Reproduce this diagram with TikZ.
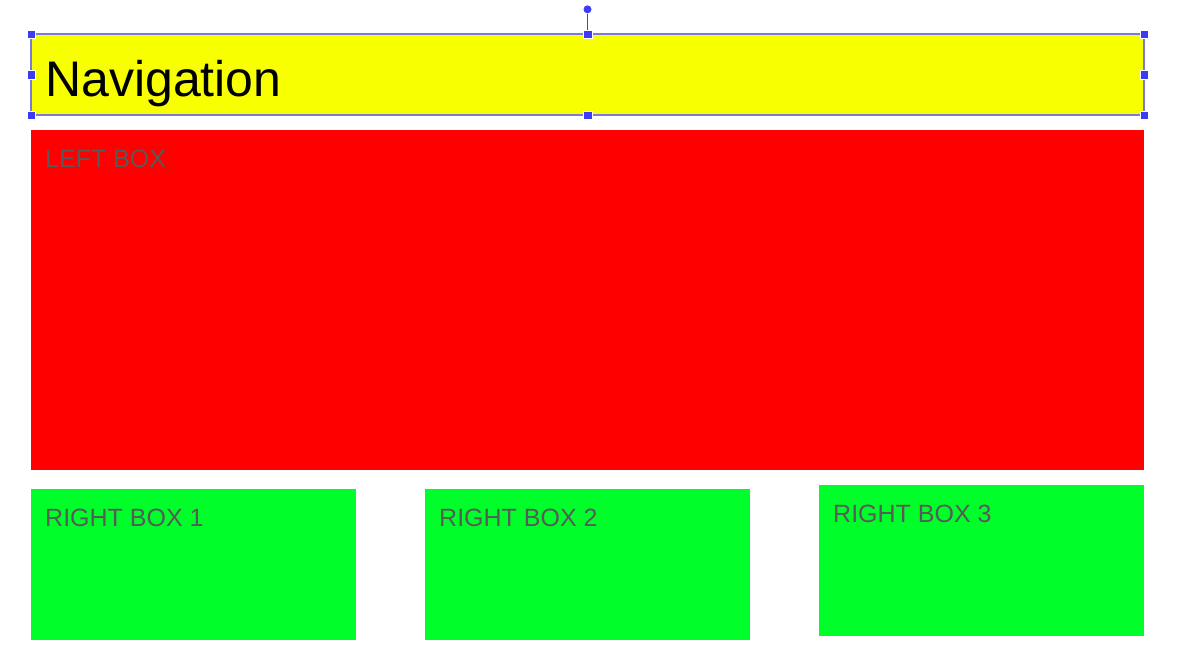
\documentclass[tikz,border=0pt]{standalone}
\usepackage{xcolor}
\usepackage{fontspec}
\setmainfont{Liberation Sans}
\usetikzlibrary{positioning}
\definecolor{navyellow}{HTML}{F7FF00}
\definecolor{boxred}{HTML}{FF0000}
\definecolor{boxgreen}{HTML}{00FF2A}
\definecolor{labelgray}{HTML}{595959}
\definecolor{handleblue}{HTML}{3C3CF5}
\definecolor{selectline}{HTML}{7A7AD8}

\begin{document}
\begin{tikzpicture}[x=1pt, y=-1pt,
    boxtext/.style={inner sep=0pt, anchor=north west, text=labelgray, font=\fontsize{25pt}{30pt}\selectfont},
    handle/.style={draw=white, line width=0.4pt, fill=handleblue, inner sep=0pt, minimum size=8.5pt},
    greenbox/.style={fill=boxgreen, inner sep=0pt, outer sep=0pt, minimum width=325pt, minimum height=151pt}]

        \useasboundingbox (0,0) rectangle (1187,662);

        % Nodes
        \node (nav) [fill=navyellow, draw=selectline, line width=1.2pt, inner sep=0pt, outer sep=0pt, anchor=north west, minimum width=1113pt, minimum height=81pt] at (31,34) {};
        \node (navtext) [inner sep=0pt, anchor=north west, font=\fontsize{50pt}{60pt}\selectfont] at ([shift={(14pt,-26pt)}]nav.north west) {Navigation};
        \node (left) [below=15pt of nav, fill=boxred, inner sep=0pt, outer sep=0pt, minimum width=1113pt, minimum height=340pt] {};
        \node (lefttext) [boxtext] at ([shift={(14pt,-19.5pt)}]left.north west) {LEFT BOX};
        \node (right1) [greenbox, below=19pt of left.south west, anchor=north west] {};
        \node (right2) [greenbox, right=69pt of right1] {};
        \node (right3) [greenbox, right=69pt of right2, yshift=4pt] {};
        \foreach \b/\t in {right1/RIGHT BOX 1, right2/RIGHT BOX 2, right3/RIGHT BOX 3} {
            \node (\b text) [boxtext] at ([shift={(14pt,-20pt)}]\b.north west) {\t};
        }

        % Handles
        \foreach \a in {north west, north, north east, west, east, south west, south, south east} {
            \node (h-\a) [handle] at (nav.\a) {};
        }
        \node (rot) [circle, fill=handleblue, inner sep=0pt, minimum size=8pt, above=16pt of h-north] {};
        \draw[handleblue, line width=1pt] (rot) -- (h-north);

    \end{tikzpicture}
\end{document}
